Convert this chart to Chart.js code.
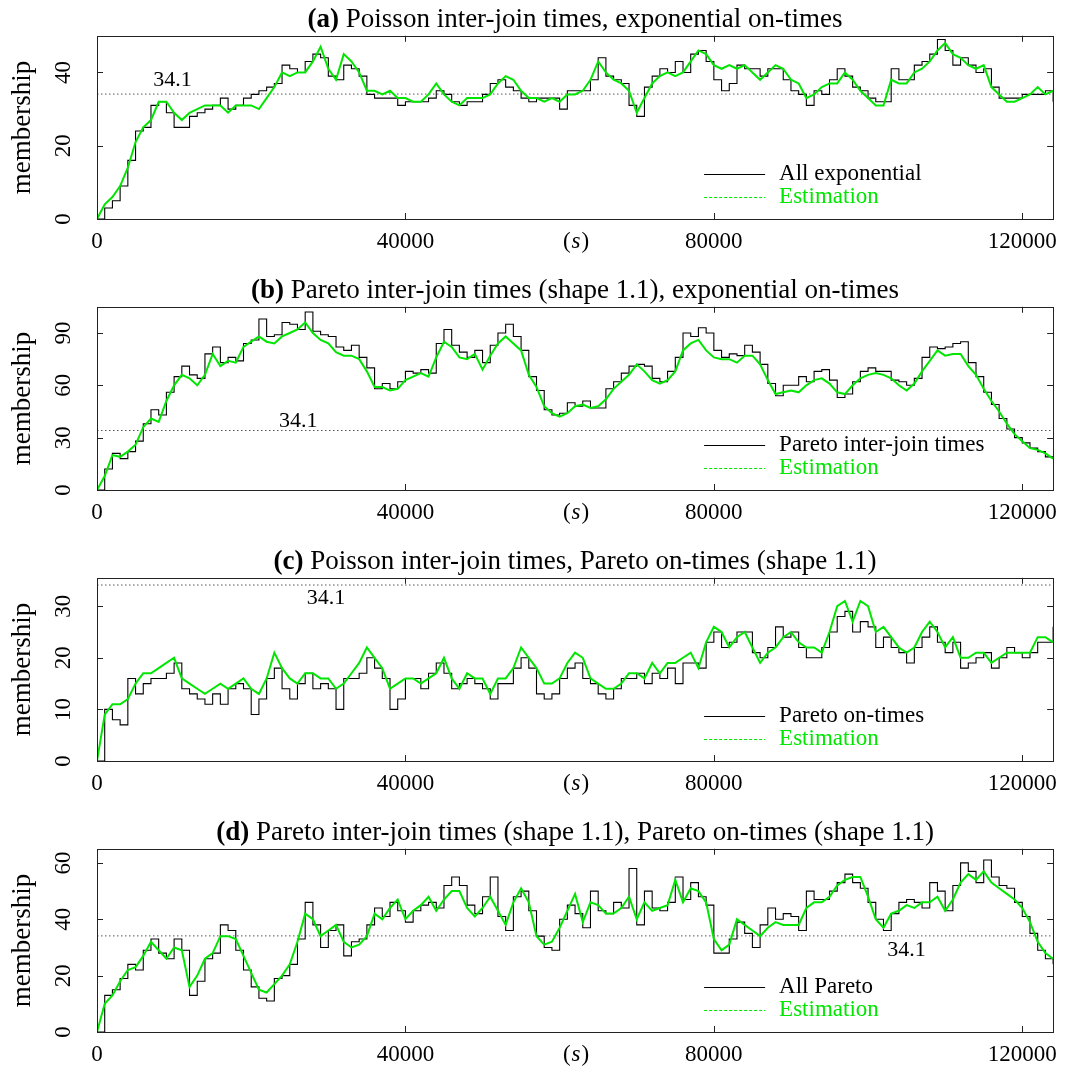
<!DOCTYPE html>
<html lang="en">
<head>
    <meta charset="UTF-8">
    <title>membership</title>
    <style>
        body { margin: 0; background: #fff; }
        canvas { position: absolute; left: 0; }
    </style>
</head>
<body>
    <script src="https://cdn.jsdelivr.net/npm/chart.js@4/dist/chart.umd.min.js"></script>
    <canvas id="pa" width="1066" height="271" style="top:0px"></canvas>
    <canvas id="pb" width="1066" height="271" style="top:271px"></canvas>
    <canvas id="pc" width="1066" height="271" style="top:542px"></canvas>
    <canvas id="pd" width="1066" height="257" style="top:813px"></canvas>

    <script>
        // time axis, seconds (one sample per 1000 s)
        const seconds = [
            0, 1000, 2000, 3000, 4000, 5000, 6000, 7000, 8000, 9000,
            10000, 11000, 12000, 13000, 14000, 15000, 16000, 17000, 18000, 19000,
            20000, 21000, 22000, 23000, 24000, 25000, 26000, 27000, 28000, 29000,
            30000, 31000, 32000, 33000, 34000, 35000, 36000, 37000, 38000, 39000,
            40000, 41000, 42000, 43000, 44000, 45000, 46000, 47000, 48000, 49000,
            50000, 51000, 52000, 53000, 54000, 55000, 56000, 57000, 58000, 59000,
            60000, 61000, 62000, 63000, 64000, 65000, 66000, 67000, 68000, 69000,
            70000, 71000, 72000, 73000, 74000, 75000, 76000, 77000, 78000, 79000,
            80000, 81000, 82000, 83000, 84000, 85000, 86000, 87000, 88000, 89000,
            90000, 91000, 92000, 93000, 94000, 95000, 96000, 97000, 98000, 99000,
            100000, 101000, 102000, 103000, 104000, 105000, 106000, 107000, 108000, 109000,
            110000, 111000, 112000, 113000, 114000, 115000, 116000, 117000, 118000, 119000,
            120000, 121000, 122000, 123000, 124000
        ];
        const xTicks = [0, 40000, 80000, 120000];

        const aActual = [
            0, 3, 5, 9, 16, 24, 25, 31, 32, 29,
            25, 25, 28, 29, 30, 31, 33, 30, 31, 33,
            34, 35, 36, 37, 42, 41, 40, 43, 45, 44,
            39, 38, 42, 41, 39, 34, 33, 33, 33, 31,
            32, 32, 32, 33, 35, 34, 32, 31, 32, 32,
            34, 37, 38, 36, 35, 33, 32, 33, 33, 33,
            30, 35, 35, 35, 38, 44, 39, 38, 37, 31,
            28, 36, 39, 41, 40, 43, 40, 45, 46, 43,
            38, 35, 37, 42, 41, 41, 39, 41, 41, 38,
            35, 34, 31, 35, 34, 38, 41, 39, 36, 35,
            33, 32, 32, 41, 38, 38, 42, 43, 45, 49,
            46, 42, 44, 42, 40, 41, 36, 33, 33, 33,
            34, 34, 34, 35, 32
        ];
        const aEstimate = [
            0, 4, 6, 9, 14, 21, 25, 27, 32, 32,
            29, 27, 29, 30, 31, 31, 31, 29, 31, 31,
            31, 30, 33, 36, 40, 39, 40, 40, 43, 47,
            41, 38, 45, 43, 40, 35, 35, 34, 35, 33,
            33, 32, 32, 34, 37, 34, 32, 31, 33, 33,
            33, 34, 37, 39, 38, 35, 33, 33, 32, 33,
            32, 34, 34, 35, 38, 43, 40, 38, 37, 35,
            29, 33, 37, 39, 40, 39, 40, 43, 46, 45,
            42, 41, 42, 41, 42, 40, 38, 40, 42, 41,
            38, 37, 33, 34, 36, 37, 37, 40, 38, 35,
            33, 31, 31, 38, 37, 37, 40, 41, 43, 46,
            48, 45, 44, 42, 41, 42, 36, 34, 32, 32,
            33, 34, 36, 34, 35
        ];

        const bActual = [
            0, 12, 21, 18, 22, 28, 38, 46, 43, 56,
            65, 71, 66, 64, 78, 82, 73, 76, 74, 84,
            86, 98, 88, 89, 96, 95, 92, 102, 91, 89,
            88, 82, 80, 83, 76, 70, 58, 61, 58, 62,
            68, 67, 69, 67, 84, 92, 83, 79, 76, 80,
            73, 83, 90, 95, 88, 80, 65, 57, 46, 43,
            44, 50, 48, 51, 47, 47, 58, 62, 67, 71,
            72, 71, 64, 62, 68, 76, 90, 88, 93, 90,
            80, 76, 78, 77, 83, 79, 72, 61, 54, 60,
            60, 65, 62, 68, 69, 63, 53, 55, 62, 68,
            70, 68, 68, 63, 62, 60, 64, 76, 82, 81,
            82, 84, 85, 73, 65, 56, 49, 41, 35, 30,
            27, 24, 22, 19, 18
        ];
        const bEstimate = [
            0, 8, 20, 19, 22, 26, 36, 41, 39, 51,
            60, 66, 64, 60, 66, 78, 71, 74, 73, 82,
            85, 88, 85, 84, 88, 90, 92, 96, 90, 86,
            84, 79, 77, 77, 75, 68, 59, 59, 57, 58,
            63, 65, 67, 65, 76, 85, 82, 76, 75, 78,
            69, 77, 84, 88, 84, 80, 66, 59, 48, 44,
            42, 44, 48, 49, 47, 48, 52, 58, 62, 66,
            72, 68, 63, 61, 63, 68, 80, 84, 86, 80,
            76, 75, 75, 73, 77, 77, 72, 63, 55, 56,
            57, 56, 60, 63, 64, 61, 56, 55, 60, 64,
            66, 67, 66, 64, 60, 57, 61, 68, 74, 80,
            77, 78, 78, 71, 66, 58, 51, 45, 38, 32,
            28, 24, 23, 21, 18
        ];

        const cActual = [
            0, 10, 8, 7, 16, 13, 15, 16, 16, 17,
            19, 14, 13, 12, 11, 13, 11, 14, 15, 14,
            9, 12, 16, 18, 14, 12, 15, 17, 14, 15,
            14, 10, 16, 16, 17, 20, 18, 16, 10, 12,
            16, 16, 14, 17, 19, 17, 14, 15, 16, 15,
            14, 12, 15, 15, 18, 20, 18, 13, 12, 13,
            16, 18, 19, 16, 15, 13, 12, 14, 16, 16,
            17, 15, 17, 16, 18, 15, 19, 19, 18, 23,
            25, 22, 23, 25, 25, 21, 20, 22, 26, 24,
            25, 22, 20, 20, 22, 25, 28, 29, 25, 27,
            26, 22, 24, 22, 21, 19, 22, 24, 26, 23,
            21, 23, 18, 19, 20, 21, 18, 20, 22, 21,
            20, 21, 23, 23, 26
        ];
        const cEstimate = [
            0, 9, 11, 11, 12, 15, 17, 17, 18, 19,
            20, 16, 15, 14, 13, 14, 15, 14, 15, 16,
            14, 13, 16, 21, 18, 16, 15, 17, 17, 16,
            16, 14, 15, 17, 19, 22, 20, 18, 14, 15,
            16, 16, 15, 16, 17, 20, 16, 14, 17, 16,
            16, 13, 16, 16, 18, 22, 20, 18, 15, 15,
            16, 19, 21, 20, 16, 15, 14, 14, 15, 17,
            17, 16, 19, 17, 19, 19, 20, 21, 18, 23,
            26, 25, 22, 24, 25, 22, 19, 21, 22, 24,
            25, 23, 22, 22, 21, 25, 30, 31, 27, 31,
            30, 25, 26, 24, 22, 21, 22, 25, 27, 25,
            22, 24, 20, 20, 21, 21, 19, 20, 21, 21,
            21, 21, 24, 24, 23
        ];

        const dActual = [
            0, 13, 15, 19, 24, 22, 29, 33, 28, 26,
            33, 29, 13, 18, 26, 28, 38, 36, 29, 22,
            16, 12, 11, 19, 20, 24, 33, 46, 38, 30,
            36, 38, 27, 32, 33, 38, 44, 41, 46, 43,
            39, 43, 45, 46, 44, 52, 55, 52, 45, 42,
            48, 55, 41, 36, 48, 50, 43, 34, 30, 29,
            40, 45, 42, 37, 50, 43, 42, 46, 44, 58,
            38, 50, 44, 43, 46, 55, 47, 53, 48, 45,
            28, 28, 33, 39, 35, 30, 38, 44, 40, 42,
            41, 36, 50, 47, 47, 50, 53, 56, 53, 51,
            46, 40, 36, 42, 46, 47, 46, 44, 53, 50,
            43, 52, 60, 57, 53, 61, 55, 52, 51, 46,
            41, 35, 29, 26, 24
        ];
        const dEstimate = [
            0, 10, 13, 18, 22, 23, 27, 32, 29, 26,
            30, 29, 16, 20, 26, 28, 34, 34, 33, 27,
            21, 15, 14, 17, 20, 24, 32, 42, 40, 34,
            36, 38, 32, 30, 31, 34, 42, 40, 44, 47,
            40, 43, 45, 48, 43, 47, 50, 50, 44, 41,
            44, 48, 43, 38, 46, 51, 46, 34, 31, 32,
            37, 43, 49, 39, 46, 45, 42, 42, 44, 48,
            40, 46, 43, 44, 45, 54, 46, 51, 50, 46,
            33, 29, 31, 40, 38, 36, 34, 37, 39, 38,
            38, 38, 44, 46, 46, 48, 52, 54, 55, 55,
            48, 40, 37, 42, 43, 45, 44, 46, 46, 48,
            43, 47, 53, 56, 54, 57, 53, 51, 49, 47,
            44, 39, 32, 28, 26
        ];

        const meanMembership = 34.1;
        const xMax = 124000;
        const yMax = [50, 105, 35.5, 65];
        const yStep = [20, 30, 10, 20];
        const titleTags = ["(a)", "(b)", "(c)", "(d)"];
        const titleTexts = [
            " Poisson inter-join times, exponential on-times",
            " Pareto inter-join times (shape 1.1), exponential on-times",
            " Poisson inter-join times, Pareto on-times (shape 1.1)",
            " Pareto inter-join times (shape 1.1), Pareto on-times (shape 1.1)"
        ];
        const legendNames = ["All exponential", "Pareto inter-join times", "Pareto on-times", "All Pareto"];
        const meanLabelAt = [9800, 26100, 29700, 105000];
        const meanLabelDy = [-14, -9, 13, 14];

        const actuals = [aActual, bActual, cActual, dActual];
        const estimates = [aEstimate, bEstimate, cEstimate, dEstimate];
        const canvasIds = ["pa", "pb", "pc", "pd"];

        const SERIF = '"Liberation Serif", "Times New Roman", serif';
        const GREEN = "#00e600";
        const PLOT_TOP = 34, PLOT_BOTTOM = 219, PLOT_LEFT = 97, PLOT_RIGHT = 1059;

        const deco = {
            id: "deco",
            afterDatasetsDraw(chart) {
                const { ctx, chartArea: a, scales: { x, y } } = chart;
                ctx.save();
                ctx.strokeStyle = "#222";
                ctx.lineWidth = 1;
                ctx.strokeRect(Math.round(a.left) + 0.5, Math.round(a.top) + 0.5,
                    Math.round(a.right - a.left), Math.round(a.bottom - a.top));
                ctx.beginPath();
                x.ticks.forEach(t => {
                    if (t.value <= 0) return;
                    const px = Math.round(x.getPixelForValue(t.value)) + 0.5;
                    ctx.moveTo(px, a.bottom); ctx.lineTo(px, a.bottom - 6);
                    ctx.moveTo(px, a.top); ctx.lineTo(px, a.top + 6);
                });
                y.ticks.forEach(t => {
                    if (t.value <= 0) return;
                    const py = Math.round(y.getPixelForValue(t.value)) + 0.5;
                    ctx.moveTo(a.left, py); ctx.lineTo(a.left + 6, py);
                    ctx.moveTo(a.right, py); ctx.lineTo(a.right - 6, py);
                });
                ctx.stroke();
                ctx.restore();
            },
            afterDraw(chart, args, o) {
                const { ctx, chartArea: a, scales: { x, y } } = chart;
                const i = o.panel;
                ctx.save();
                ctx.fillStyle = "#000";

                // title, bold tag + plain text
                ctx.textBaseline = "alphabetic";
                ctx.textAlign = "left";
                ctx.font = "bold 27px " + SERIF;
                const wTag = ctx.measureText(titleTags[i]).width;
                ctx.font = "27px " + SERIF;
                const wText = ctx.measureText(titleTexts[i]).width;
                let tx = (a.left + a.right) / 2 - (wTag + wText) / 2;
                ctx.font = "bold 27px " + SERIF;
                ctx.fillText(titleTags[i], tx, a.top - 9);
                ctx.font = "27px " + SERIF;
                ctx.fillText(titleTexts[i], tx + wTag, a.top - 9);

                // y title
                ctx.save();
                ctx.translate(23, (a.top + a.bottom) / 2);
                ctx.rotate(-Math.PI / 2);
                ctx.textAlign = "center";
                ctx.textBaseline = "middle";
                ctx.fillText("membership", 0, 0);
                ctx.restore();

                // x unit "(s)" sits in the tick label row
                ctx.textBaseline = "middle";
                ctx.font = "23px " + SERIF;
                const wp = ctx.measureText("(").width;
                ctx.font = "italic 23px " + SERIF;
                const ws = ctx.measureText("s").width;
                let sx = x.getPixelForValue(62000) - (2 * wp + ws) / 2;
                const sy = a.bottom + 22.5;
                ctx.font = "23px " + SERIF;
                ctx.fillText("(", sx, sy);
                ctx.font = "italic 23px " + SERIF;
                ctx.fillText("s", sx + wp + 1, sy);
                ctx.font = "23px " + SERIF;
                ctx.fillText(")", sx + wp + ws + 2, sy);

                // 34.1 label
                ctx.textAlign = "center";
                ctx.font = "22px " + SERIF;
                ctx.fillText(String(meanMembership), x.getPixelForValue(meanLabelAt[i]),
                    y.getPixelForValue(meanMembership) + meanLabelDy[i]);

                // key
                const r1 = a.bottom - 45, r2 = a.bottom - 22;
                const lx0 = a.right - 349, lx1 = a.right - 288, txk = a.right - 274;
                ctx.lineWidth = 1;
                ctx.strokeStyle = "#000";
                ctx.beginPath(); ctx.moveTo(lx0, r1 + 0.5); ctx.lineTo(lx1, r1 + 0.5); ctx.stroke();
                ctx.strokeStyle = GREEN;
                ctx.setLineDash([3, 2]);
                ctx.beginPath(); ctx.moveTo(lx0, r2 + 0.5); ctx.lineTo(lx1, r2 + 0.5); ctx.stroke();
                ctx.setLineDash([]);
                ctx.textAlign = "left";
                ctx.font = "23px " + SERIF;
                ctx.fillStyle = "#000";
                ctx.fillText(legendNames[i], txk, r1);
                ctx.fillStyle = GREEN;
                ctx.fillText("Estimation", txk, r2);
                ctx.restore();
            }
        };

        canvasIds.forEach((id, i) => {
            const canvas = document.getElementById(id);
            const H = canvas.height;
            const pts = vals => seconds.map((t, k) => ({ x: t, y: vals[k] }));
            new Chart(canvas, {
                type: "line",
                data: {
                    datasets: [
                        {
                            data: [{ x: 0, y: meanMembership }, { x: xMax, y: meanMembership }],
                            borderColor: "#555",
                            borderWidth: 1,
                            borderDash: [1.5, 2.5],
                            pointRadius: 0,
                            order: 2
                        },
                        {
                            label: legendNames[i],
                            data: pts(actuals[i]),
                            borderColor: "#000",
                            borderWidth: 1.1,
                            stepped: true,
                            pointRadius: 0,
                            order: 1
                        },
                        {
                            label: "Estimation",
                            data: pts(estimates[i]),
                            borderColor: GREEN,
                            borderWidth: 2,
                            pointRadius: 0,
                            order: 0
                        }
                    ]
                },
                options: {
                    responsive: false,
                    animation: false,
                    events: [],
                    layout: { padding: { top: PLOT_TOP, right: 1066 - PLOT_RIGHT, left: 0, bottom: 0 } },
                    plugins: {
                        legend: { display: false },
                        tooltip: { enabled: false },
                        deco: { panel: i }
                    },
                    scales: {
                        x: {
                            type: "linear",
                            min: 0,
                            max: xMax,
                            afterBuildTicks: s => { s.ticks = xTicks.map(v => ({ value: v })); },
                            ticks: {
                                maxRotation: 0,
                                autoSkip: false,
                                padding: 9,
                                color: "#000",
                                font: { family: SERIF, size: 23 },
                                callback: v => String(v)
                            },
                            grid: { display: false, drawTicks: false },
                            border: { display: false },
                            afterFit: s => { s.height = H - PLOT_BOTTOM; }
                        },
                        y: {
                            min: 0,
                            max: yMax[i],
                            ticks: {
                                stepSize: yStep[i],
                                includeBounds: false,
                                autoSkip: false,
                                minRotation: 90,
                                maxRotation: 90,
                                crossAlign: "center",
                                padding: 22,
                                color: "#000",
                                font: { family: SERIF, size: 23 },
                                callback: v => String(v)
                            },
                            grid: { display: false, drawTicks: false },
                            border: { display: false },
                            afterFit: s => { s.width = PLOT_LEFT; }
                        }
                    }
                },
                plugins: [deco]
            });
        });
    </script>
</body>
</html>
